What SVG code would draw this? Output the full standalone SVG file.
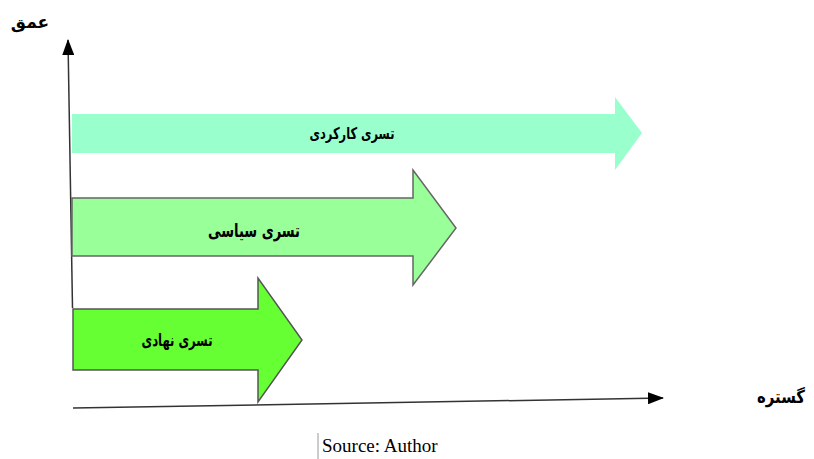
<svg xmlns="http://www.w3.org/2000/svg" width="814" height="459" viewBox="0 0 814 459">
<style>
.lbl{font-family:"DejaVu Sans",sans-serif;font-weight:bold;fill:#000;text-anchor:middle}
.ax{stroke:#333;stroke-width:1.5;fill:none}
</style>
<defs>
<marker id="ah" viewBox="0 0 16 12" refX="15" refY="6" markerWidth="16" markerHeight="12" orient="auto" markerUnits="userSpaceOnUse">
<path d="M0,0 L16,6 L0,12 Z" fill="#000"/>
</marker>
</defs>
<rect width="814" height="459" fill="#fff"/>
<g id="connectors">
<line class="ax" x1="72.5" y1="308" x2="68" y2="40" marker-end="url(#ah)"/>
<line class="ax" x1="73" y1="408" x2="663" y2="398" marker-end="url(#ah)"/>
</g>
<g id="arrow-functional">
<polygon points="72,114 615,114 615,97 642,133 615,170 615,153 72,153" fill="#99FFCC"/>
<text class="lbl" x="352" y="139" font-size="16" direction="rtl" textLength="85" lengthAdjust="spacingAndGlyphs">تسری کارکردی</text>
</g>
<g id="arrow-political">
<polygon points="72,198 413,198 413,170 456,228 413,285 413,256 72,256" fill="#99FF99" stroke="#666" stroke-width="1.5"/>
<text class="lbl" x="254" y="237" font-size="19" direction="rtl" textLength="92" lengthAdjust="spacingAndGlyphs">تسری سیاسی</text>
</g>
<g id="arrow-institutional">
<polygon points="73,309 258,309 258,278 302,340 258,402 258,370 73,370" fill="#66FF33" stroke="#555" stroke-width="1.5"/>
<text class="lbl" x="177" y="346" font-size="17" direction="rtl" textLength="71" lengthAdjust="spacingAndGlyphs">تسری نهادی</text>
</g>
<g id="axis-labels">
<text class="lbl" x="30" y="28" font-size="17" direction="rtl">عمق</text>
<text class="lbl" x="781" y="403" font-size="18" direction="rtl" textLength="48" lengthAdjust="spacingAndGlyphs">گستره</text>
</g>
<g id="source">
<line x1="318" y1="433" x2="318" y2="459" stroke="#999" stroke-width="1"/>
<text x="322" y="452" font-family="Liberation Serif,serif" font-size="19" fill="#000">Source: Author</text>
</g>
</svg>
